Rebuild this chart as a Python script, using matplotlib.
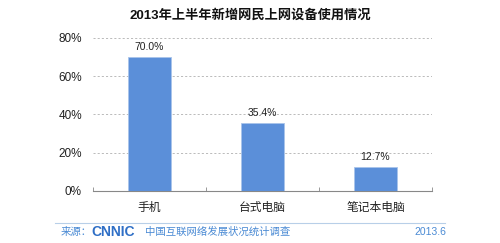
import matplotlib
matplotlib.use("Agg")
import matplotlib.pyplot as plt
import numpy as np

plt.rcParams["font.family"] = ["Liberation Sans", "Noto Sans CJK SC", "DejaVu Sans"]

CATEGORIES = ["手机", "台式电脑", "笔记本电脑"]
VALUES = [70.0, 35.4, 12.7]
YTICKS = [0, 20, 40, 60, 80]
TITLE = "2013年上半年新增网民上网设备使用情况"

BAR_COLOR = "#5b8fd9"
FOOT_COLOR = "#4a8ad4"


def main():
    fig = plt.figure(figsize=(5.0, 2.43), dpi=100)
    ax = fig.add_axes([0.186, 0.214, 0.678, 0.63])
    x = np.arange(len(CATEGORIES))
    ax.bar(x, VALUES, width=0.38, color=BAR_COLOR, edgecolor="#a9c4ea", lw=0.6, zorder=3)
    for xi, v in zip(x, VALUES):
        ax.text(xi, v + 2.5, f"{v:.1f}%", ha="center", va="bottom", fontsize=7.5, color="#222")

    ax.set_xlim(-0.5, len(CATEGORIES) - 0.5)
    ax.set_ylim(0, 80)
    ax.set_yticks(YTICKS)
    ax.set_yticklabels([f"{t}%" for t in YTICKS], fontsize=8.5, color="#222")
    ax.yaxis.grid(True, ls=(0, (2.5, 2.5)), color="#b0b0b0", lw=0.6)
    ax.tick_params(axis="y", length=0, pad=8)
    ax.set_xticks(x)
    ax.set_xticklabels(CATEGORIES, fontsize=8.5, color="#222")
    ax.set_xticks(np.arange(-0.5, len(CATEGORIES)), minor=True)
    ax.tick_params(axis="x", which="major", length=0, pad=8)
    ax.tick_params(axis="x", which="minor", length=3, color="#888", direction="in")
    for s in ["top", "right", "left"]:
        ax.spines[s].set_visible(False)
    ax.spines["bottom"].set_color("#888")
    ax.spines["bottom"].set_linewidth(0.8)

    fig.text(0.5, 0.935, TITLE, ha="center", va="center", fontsize=9.5, fontweight="bold", color="#111")

    # footer
    fig.add_artist(plt.Line2D([0.11, 0.89], [0.084, 0.084], color="#b8cfe8", lw=0.8))
    fig.text(0.122, 0.045, "来源：", fontsize=7.5, color=FOOT_COLOR, va="center")
    fig.text(0.182, 0.045, "CNNIC", fontsize=10, fontweight="bold", color="#2f6fc6", va="center")
    fig.text(0.29, 0.045, "中国互联网络发展状况统计调查", fontsize=7.5, color=FOOT_COLOR, va="center")
    fig.text(0.86, 0.045, "2013.6", fontsize=7.5, color=FOOT_COLOR, va="center", ha="center")

    fig.savefig("out.png", dpi=100)


if __name__ == "__main__":
    main()
